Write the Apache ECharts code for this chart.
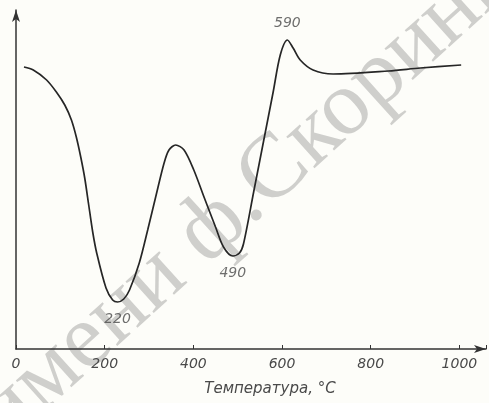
<!DOCTYPE html>
<html><head><meta charset="utf-8">
<script src="https://cdn.jsdelivr.net/npm/echarts@6/dist/echarts.min.js"></script>
<style>html,body{margin:0;padding:0;background:#fdfdf9;}#c{width:489px;height:403px;}</style>
</head><body><div id="c"></div>
<script>
// Temperature (°C) and relative signal (arbitrary units, no scale printed)
const temps = [18, 39, 69, 91, 110, 125, 136, 146, 155, 164, 173, 182, 203, 218, 229, 243, 256, 278, 297, 315, 334, 345, 360, 379, 401, 424, 450, 468, 489, 504, 513, 536, 558, 580, 596, 612, 625, 641, 670, 715, 840, 912, 1004];
const signal = [282, 279, 269, 257, 244, 229, 212, 192, 171, 144, 117, 96, 61, 49, 47, 50, 59, 86, 119, 152, 186, 199, 204, 199, 179, 152, 122, 102, 93, 96, 105, 157, 207, 257, 294, 309, 301, 289, 279, 275, 278, 281, 284];
const xTicks = [0, 200, 400, 600, 800, 1000];
const peakNames = ['220', '490', '590'];
const peakT = [229, 489, 612];
const peakV = [47, 93, 309];
const peakSide = ['bottom', 'bottom', 'top'];
const xTitle = 'Температура, °С';
const watermark = 'имени ф.Скорины';

const chart = echarts.init(document.getElementById('c'));
const ink = '#262626';
const txt = '#4a4a4a';
chart.setOption({
  backgroundColor: '#fdfdf9',
  animation: false,
  grid: {left: 16, top: 10, width: 473, height: 339, containLabel: false},
  xAxis: {
    type: 'value', min: 0, max: 1060, interval: 200,
    axisLine: {show: true, symbol: ['none', 'arrow'], symbolSize: [6, 12], lineStyle: {color: '#333', width: 1.5}},
    axisTick: {show: true, inside: true, length: 4, lineStyle: {color: '#333'}},
    splitLine: {show: false},
    axisLabel: {
      margin: 8, color: txt, fontSize: 14, fontStyle: 'italic', fontFamily: 'DejaVu Sans',
      formatter: v => xTicks.includes(v) ? String(v) : ''
    }
  },
  yAxis: {
    type: 'value', min: 0, max: 339,
    axisLine: {show: true, symbol: ['none', 'arrow'], symbolSize: [6, 12], lineStyle: {color: '#333', width: 1.5}},
    axisTick: {show: false}, axisLabel: {show: false}, splitLine: {show: false}
  },
  graphic: [
    {type: 'text', x: 252, y: 192, rotation: 42 * Math.PI / 180, z: -1, silent: true,
     style: {text: watermark, fill: 'rgba(90,90,90,0.28)', font: '92px "Liberation Serif"', textAlign: 'center', textVerticalAlign: 'middle'}},
    {type: 'text', x: 270, y: 389, z: 10,
     style: {text: xTitle, fill: txt, font: 'italic 15px "DejaVu Sans"', textAlign: 'center', textVerticalAlign: 'middle'}}
  ],
  series: [
    {
      type: 'line', smooth: 0.3, symbol: 'none',
      data: temps.map((t, i) => [t, signal[i]]),
      lineStyle: {color: ink, width: 1.7}
    },
    {
      type: 'scatter', symbolSize: 0,
      data: peakT.map((t, i) => ({value: [t, peakV[i]], label: {position: peakSide[i]}})),
      label: {
        show: true, distance: 10, color: txt, fontSize: 14, fontStyle: 'italic', fontFamily: 'DejaVu Sans',
        formatter: p => peakNames[p.dataIndex]
      }
    }
  ]
});
</script></body></html>
